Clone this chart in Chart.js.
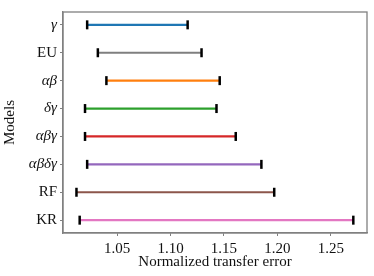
<!DOCTYPE html>
<html>
<head>
<meta charset="utf-8">
<script src="https://cdn.jsdelivr.net/npm/chart.js@4"></script>
<style>
  html, body { margin: 0; padding: 0; background: #fff; }
  #wrap { width: 374px; height: 276px; }
</style>
</head>
<body>
<div id="wrap"><canvas id="chart" width="374" height="276"></canvas></div>
<script>
// models listed top to bottom, as in the picture
const models = ['γ', 'EU', 'αβ', 'δγ', 'αβγ', 'αβδγ', 'RF', 'KR'];
const lows   = [1.022, 1.032, 1.040, 1.020, 1.020, 1.022, 1.012, 1.015];
const highs  = [1.116, 1.129, 1.146, 1.143, 1.161, 1.185, 1.197, 1.271];
const colors = ['#1f77b4', '#7f7f7f', '#ff7f0e', '#2ca02c', '#d62728', '#9467bd', '#8c564b', '#e377c2'];
const xTicks = [1.05, 1.10, 1.15, 1.20, 1.25];

const serif = '"Liberation Serif", "DejaVu Serif", serif';
const greek = /[αβγδ]/;

// box around the plot area (matplotlib style frame)
const frame = {
    id: 'frame',
    afterDraw(chart) {
        const a = chart.chartArea;
        const c = chart.ctx;
        c.save();
        c.strokeStyle = '#808080';
        c.lineWidth = 1.3;
        c.strokeRect(a.left, a.top, a.right - a.left, a.bottom - a.top);
        c.restore();
    }
};

const n = models.length;
const datasets = models.map(function(m, i) {
    const y = n - 1 - i;
    return {
        label: m,
        data: [{ x: lows[i], y: y }, { x: highs[i], y: y }],
        showLine: true,
        borderColor: colors[i],
        borderWidth: 2.2,
        pointStyle: 'line',
        rotation: 90,
        pointRadius: 4.5,
        pointHoverRadius: 4.5,
        pointBorderColor: '#000',
        pointBorderWidth: 2.5
    };
});

new Chart(document.getElementById('chart').getContext('2d'), {
    type: 'scatter',
    data: { datasets: datasets },
    options: {
        responsive: false,
        animation: false,
        layout: { padding: { top: 6, right: 6, left: 1, bottom: 5 } },
        plugins: { legend: { display: false }, tooltip: { enabled: false } },
        scales: {
            x: {
                type: 'linear',
                min: 0.9994,
                max: 1.2838,
                afterBuildTicks: function(s) { s.ticks = xTicks.map(v => ({ value: v })); },
                afterFit: function(s) { s.height = 38; },
                grid: { drawOnChartArea: false, drawTicks: true, tickLength: 3, color: '#808080' },
                border: { display: true, color: '#808080', width: 1.3 },
                ticks: {
                    color: '#111',
                    font: { family: serif, size: 15 },
                    padding: 4,
                    maxRotation: 0,
                    callback: v => v.toFixed(2)
                },
                title: { display: true, text: 'Normalized transfer error', color: '#111',
                         font: { family: serif, size: 15 }, padding: { top: 1, bottom: 0 } }
            },
            y: {
                type: 'linear',
                min: -0.46,
                max: 7.46,
                afterBuildTicks: function(s) { s.ticks = models.map((m, i) => ({ value: i })); },
                afterFit: function(s) { s.width = 62; },
                grid: { drawOnChartArea: false, drawTicks: true, tickLength: 3, color: '#808080' },
                border: { display: true, color: '#808080', width: 1.3 },
                ticks: {
                    color: '#111',
                    padding: 3,
                    font: function(ctx) {
                        const lbl = models[n - 1 - ctx.index] || '';
                        return { family: serif, size: 15, style: greek.test(lbl) ? 'italic' : 'normal' };
                    },
                    callback: (v) => models[n - 1 - v]
                },
                title: { display: true, text: 'Models', color: '#111',
                         font: { family: serif, size: 15 }, padding: { top: 0, bottom: 1 } }
            }
        }
    },
    plugins: [frame]
});
</script>
</body>
</html>
